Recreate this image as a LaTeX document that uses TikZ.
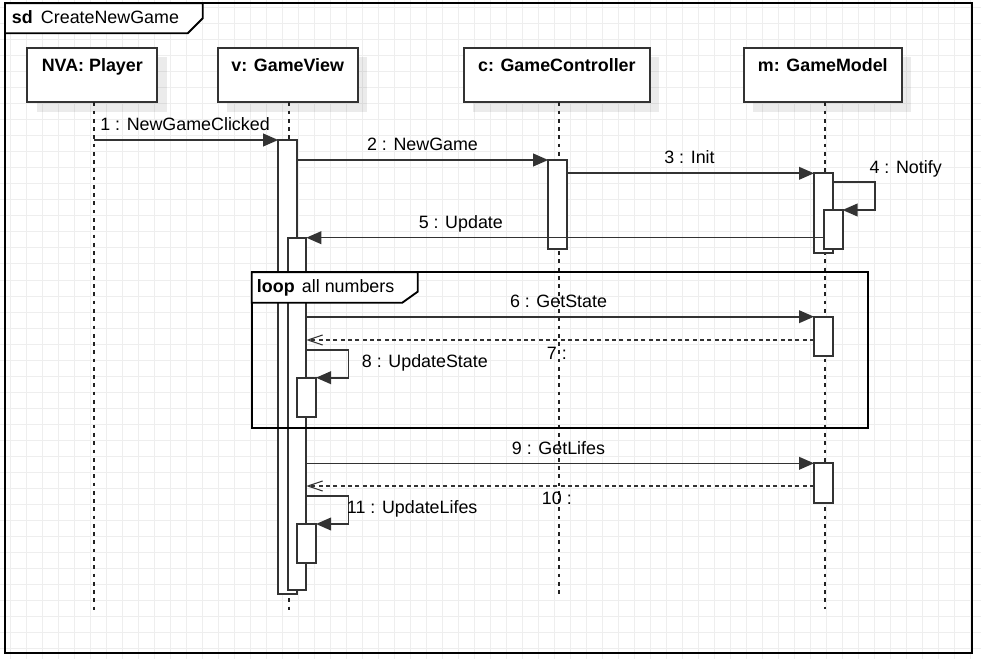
\documentclass[tikz,border=0pt]{standalone}
\usepackage{fontspec}
\setmainfont{Liberation Sans}
\usetikzlibrary{arrows.meta,shadows}

\definecolor{gridc}{HTML}{EEEEEE}
\definecolor{linec}{HTML}{333333}
\definecolor{lifec}{HTML}{222222}

\begin{document}
\begin{tikzpicture}[x=0.75pt,y=-0.75pt,
  font=\fontsize{13.4pt}{16pt}\selectfont,
  gridline/.style={draw=gridc, line width=0.75pt},
  framebox/.style={draw=black, line width=1.4pt},
  head/.style={draw=linec, fill=white, line width=1.5pt,
    font=\fontsize{13.4pt}{16pt}\selectfont\bfseries,
    anchor=north west, inner xsep=0pt, inner ysep=0pt, outer sep=0pt,
    text height=18pt, text depth=22.95pt, minimum width=#1*0.75pt,
    drop shadow={shadow xshift=7pt, shadow yshift=-7pt, fill=black, opacity=0.08}},
  lifeline/.style={draw=lifec, line width=1.5pt, dash pattern=on 2.8pt off 3.4pt},
  act/.style={draw=linec, fill=white, line width=1.5pt, anchor=north west,
    minimum width=18.6*0.75pt, minimum height=#1*0.75pt, inner sep=0pt, outer sep=0pt},
  msg/.style={draw=linec, line width=1.2pt, -{Triangle[length=11.25pt,width=9.5pt]}},
  ret/.style={draw=linec, line width=1.2pt, dash pattern=on 3pt off 2.5pt,
    -{Straight Barb[length=11pt,width=7.5pt,line width=0.8pt]}},
  lbl/.style={anchor=base, inner sep=0pt, text=black},
  lblw/.style={anchor=base west, inner sep=0pt, text=black},
  kw/.style={anchor=base west, inner sep=0pt, font=\fontsize{13.4pt}{16pt}\selectfont\bfseries}
]
\useasboundingbox (0,0) rectangle (981,659);

% background grid
\foreach \k in {0,...,60}
  \draw[gridline] ({10.67+16*\k},0) -- ({10.67+16*\k},659);
\foreach \k in {0,...,40}
  \draw[gridline] (0,{8+16*\k}) -- (981,{8+16*\k});

% sequence diagram frame with its "sd" tab
\draw[framebox] (5,3.3) rectangle (972,652.7);
\draw[framebox, fill=white] (5,3.3) -- (202.7,3.3) -- (202.7,18.3) -- (187.7,33.3) -- (5,33.3) -- cycle;
\node[kw] (sdkw) at (11.7,24) {sd};
\node[lblw] (sdname) at (40.7,24) {CreateNewGame};

% lifeline heads
\node[head=130] (player) at (27.3,47.7) {NVA: Player};
\node[head=140] (view) at (217.7,47.7) {v: GameView};
\node[head=186.3] (ctrl) at (463.7,47.7) {c: GameController};
\node[head=157.7] (model) at (744,47.7) {m: GameModel};

% lifelines
\coordinate (player-end) at (94,612);
\coordinate (view-end) at (288.7,611);
\coordinate (ctrl-end) at (558.6,595);
\coordinate (model-end) at (825,609);
\draw[lifeline] (player.south -| player-end) -- (player-end);
\draw[lifeline] (view.south -| view-end) -- (view-end);
\draw[lifeline] (ctrl.south -| ctrl-end) -- (ctrl-end);
\draw[lifeline] (model.south -| model-end) -- (model-end);

% activation bars
\node[act=454] (viewA) at (278.2,140) {};
\node[act=352.3] (viewB) at (287.7,237.7) {};
\node[act=39.6] (viewC) at (297.4,377.7) {};
\node[act=38.7] (viewD) at (297.4,524) {};
\node[act=89.3] (ctrlA) at (548.2,160) {};
\node[act=80] (modelA) at (814,173.3) {};
\node[act=39.3] (modelB) at (823.9,210) {};
\node[act=39.3] (modelC) at (814,316.7) {};
\node[act=39.4] (modelD) at (814,463.3) {};

% messages
\draw[msg] (player-end |- viewA.north) -- (viewA.north west);
\draw[msg] (viewA.east |- ctrlA.north) -- (ctrlA.north west);
\draw[msg] (ctrlA.east |- modelA.north) -- (modelA.north west);
\draw[msg] (modelA.east |- 0,182.3) -- (875,182.3) -- (875,210) -- (modelB.north east);
\draw[msg] (modelB.west |- viewB.north) -- (viewB.north east);
\draw[msg] (viewB.east |- modelC.north) -- (modelC.north west);
\draw[ret] (modelC.west |- 0,340) -- (viewB.east |- 0,340);
\draw[msg] (viewB.east |- 0,350) -- (348.3,350) -- (348.3,377.7) -- (viewC.north east);
\draw[msg] (viewB.east |- modelD.north) -- (modelD.north west);
\draw[ret] (modelD.west |- 0,486) -- (viewB.east |- 0,486);
\draw[msg] (viewB.east |- 0,495.7) -- (348.3,495.7) -- (348.3,524) -- (viewD.north east);

% loop fragment
\draw[framebox] (251.7,272.3) rectangle (867.7,428.3);
\draw[framebox, fill=white] (251.7,272.3) -- (417.7,272.3) -- (417.7,291.7) -- (402.3,302.7) -- (251.7,302.7) -- cycle;
\node[kw] (loopkw) at (256.7,292.3) {loop};
\node[lblw] (loopcond) at (301.7,292.3) {all numbers};

% message labels
\node[lbl] (m1) at (185,130.7) {1 : NewGameClicked};
\node[lbl] (m2) at (422.5,150.7) {2 : NewGame};
\node[lbl] (m3) at (689.5,164) {3 : Init};
\node[lblw] (m4) at (869.3,173.3) {4 : Notify};
\node[lbl] (m5) at (460.8,228.3) {5 : Update};
\node[lbl] (m6) at (558.5,307.3) {6 : GetState};
\node[lblw] (m7) at (546.7,359.3) {7 :};
\node[lblw] (m8) at (361.7,367.7) {8 : UpdateState};
\node[lbl] (m9) at (558.5,454) {9 : GetLifes};
\node[lblw] (m10) at (541.7,504) {10 :};
\node[lblw] (m11) at (346.7,513.3) {11 : UpdateLifes};
\end{tikzpicture}
\end{document}
